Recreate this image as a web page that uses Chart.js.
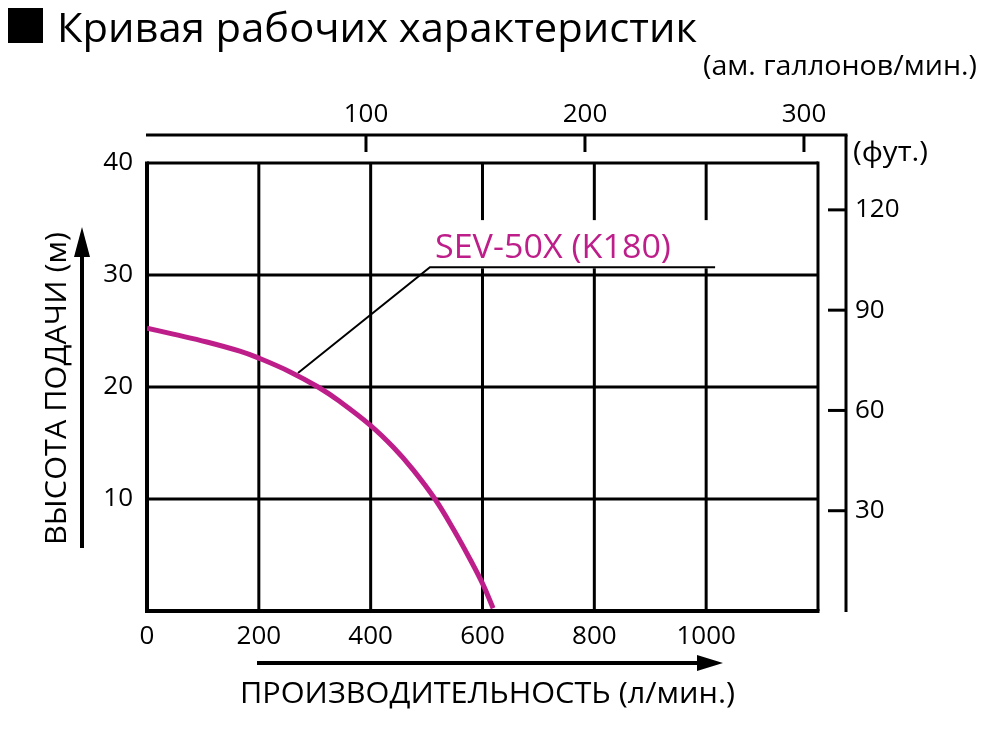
<!DOCTYPE html>
<html>
<head>
<meta charset="utf-8">
<script src="https://cdn.jsdelivr.net/npm/chart.js@4.4.1/dist/chart.umd.min.js"></script>
<style>
  html, body { margin: 0; padding: 0; background: #fff; }
  #wrap { width: 1000px; height: 735px; position: relative; }
</style>
</head>
<body>
<div id="wrap"><canvas id="c"></canvas></div>
<script>
// ---- data ----
const flowLpm = [0, 47, 107, 166, 199, 256, 306, 345, 399, 441, 476, 515, 548, 578, 601, 619];
const headM   = [25.25, 24.72, 24.02, 23.2, 22.6, 21.35, 20.0, 18.7, 16.6, 14.6, 12.6, 10.0, 7.3, 4.6, 2.35, 0.25];

const flowTicks = [0, 200, 400, 600, 800, 1000];
const flowGrid  = [200, 400, 600, 800, 1000];
const flowEnd   = 1200;
const headTicks = [10, 20, 30, 40];
const headTop   = 40;
const galTicks  = [100, 200, 300];
const ftTicks   = [30, 60, 90, 120];

const seriesName = 'SEV-50X (K180)';
const titleText = 'Кривая рабочих характеристик';
const galUnit = '(ам. галлонов/мин.)';
const ftUnit = '(фут.)';
const xTitle = 'ПРОИЗВОДИТЕЛЬНОСТЬ (л/мин.)';
const yTitle = 'ВЫСОТА ПОДАЧИ (м)';

const MAG = '#BE1E8A';
const FONT = "'Open Sans', 'Noto Sans', 'DejaVu Sans', sans-serif";

function fitText(ctx, text, x, y, w, size, color, rot) {
  ctx.save();
  ctx.font = size + 'px ' + FONT;
  ctx.fillStyle = color || '#000';
  ctx.textAlign = 'left';
  ctx.textBaseline = 'alphabetic';
  const m = ctx.measureText(text).width;
  ctx.translate(x, y);
  if (rot) ctx.rotate(rot);
  ctx.scale(w / m, 1);
  ctx.fillText(text, 0, 0);
  ctx.restore();
}

function line(ctx, x1, y1, x2, y2, w) {
  ctx.beginPath();
  ctx.lineWidth = w;
  ctx.moveTo(x1, y1);
  ctx.lineTo(x2, y2);
  ctx.stroke();
}

const decor = {
  id: 'decor',
  beforeDatasetsDraw(chart) {
    const ctx = chart.ctx;
    const xs = chart.scales.x, ys = chart.scales.y;
    const x0 = xs.getPixelForValue(0), x1 = xs.getPixelForValue(flowEnd);
    const y0 = ys.getPixelForValue(0), yT = ys.getPixelForValue(headTop);
    ctx.save();
    ctx.strokeStyle = '#000';
    ctx.lineCap = 'butt';
    headTicks.forEach(v => { const p = ys.getPixelForValue(v); line(ctx, x0, p, x1, p, 3); });
    flowGrid.forEach(v => { const p = xs.getPixelForValue(v); line(ctx, p, yT, p, y0, 3); });
    line(ctx, x1, yT - 1.5, x1, y0, 3);
    line(ctx, x0, yT - 1.5, x0, y0 + 2, 4);
    line(ctx, x0 - 2, y0, x1 + 1.5, y0, 4);

    const bx0 = xs.getPixelForValue(493), bx1 = xs.getPixelForValue(1019);
    const by0 = ys.getPixelForValue(34.9), by1 = ys.getPixelForValue(30.6);
    ctx.fillStyle = '#fff';
    ctx.fillRect(bx0, by0, bx1 - bx0, by1 - by0);
    ctx.beginPath();
    ctx.lineWidth = 2;
    ctx.moveTo(xs.getPixelForValue(270), ys.getPixelForValue(21.25));
    ctx.lineTo(xs.getPixelForValue(506), ys.getPixelForValue(30.7));
    ctx.lineTo(xs.getPixelForValue(1016), ys.getPixelForValue(30.7));
    ctx.stroke();
    const lx0 = xs.getPixelForValue(515), lx1 = xs.getPixelForValue(937);
    fitText(ctx, seriesName, lx0, ys.getPixelForValue(31.5), lx1 - lx0, 32, MAG);
    ctx.restore();
  },
  afterDraw(chart) {
    const ctx = chart.ctx;
    const ca = chart.chartArea;
    const gs = chart.scales.xg, fs = chart.scales.yf;
    ctx.save();
    ctx.strokeStyle = '#000';
    ctx.fillStyle = '#000';
    line(ctx, ca.left - 1, ca.top, ca.right + 1.5, ca.top, 3);
    galTicks.forEach(v => { const p = gs.getPixelForValue(v); line(ctx, p, ca.top, p, ca.top + 17, 3); });
    line(ctx, ca.right, ca.top, ca.right, ca.bottom + 1, 3);
    ftTicks.forEach(v => { const p = fs.getPixelForValue(v); line(ctx, ca.right - 18, p, ca.right, p, 3); });

    ctx.fillRect(8, 8, 35, 35);
    fitText(ctx, titleText, 57, 42, 640, 41, '#000');
    fitText(ctx, galUnit, 703, 75, 274, 27, '#000');
    fitText(ctx, ftUnit, 853, 161, 75, 27, '#000');

    line(ctx, 257, 663, 700, 663, 4);
    ctx.beginPath();
    ctx.moveTo(723, 663); ctx.lineTo(697, 655); ctx.lineTo(697, 671); ctx.closePath(); ctx.fill();
    fitText(ctx, xTitle, 240, 703, 495, 29, '#000');

    line(ctx, 82, 548, 82, 250, 4);
    ctx.beginPath();
    ctx.moveTo(82, 227); ctx.lineTo(74, 257); ctx.lineTo(90, 257); ctx.closePath(); ctx.fill();
    fitText(ctx, yTitle, 66, 545, 313, 30, '#000', -Math.PI / 2);
    ctx.restore();
  }
};

const tickFont = { family: FONT, size: 26 };
const plain = v => String(v);

new Chart(document.getElementById('c'), {
  type: 'scatter',
  data: {
    datasets: [{
      label: seriesName,
      data: flowLpm.map((x, i) => ({ x: x, y: headM[i] })),
      showLine: true,
      borderColor: MAG,
      borderWidth: 5,
      pointRadius: 0,
      tension: 0.4,
      xAxisID: 'x',
      yAxisID: 'y'
    }]
  },
  options: {
    responsive: true,
    maintainAspectRatio: false,
    animation: false,
    devicePixelRatio: 1,
    layout: { padding: 0 },
    plugins: { legend: { display: false }, tooltip: { enabled: false }, title: { display: false } },
    scales: {
      x: {
        type: 'linear', position: 'bottom', min: 0, max: 1250.1,
        afterBuildTicks: s => { s.ticks = flowTicks.map(v => ({ value: v })); },
        afterFit: s => { s.height = 735 - 611; },
        grid: { display: false, drawTicks: false }, border: { display: false },
        ticks: { font: tickFont, color: '#000', padding: 10, autoSkip: false, maxRotation: 0, callback: plain }
      },
      xg: {
        type: 'linear', position: 'top', min: 0, max: 319.2,
        afterBuildTicks: s => { s.ticks = galTicks.map(v => ({ value: v })); },
        afterFit: s => { s.height = 135; },
        grid: { display: false, drawTicks: false }, border: { display: false },
        ticks: { font: tickFont, color: '#000', padding: 5, autoSkip: false, maxRotation: 0, callback: plain }
      },
      y: {
        type: 'linear', position: 'left', min: 0, max: 42.5,
        afterBuildTicks: s => { s.ticks = headTicks.map(v => ({ value: v })); },
        afterFit: s => { s.width = 147; },
        grid: { display: false, drawTicks: false }, border: { display: false },
        ticks: { font: tickFont, color: '#000', padding: 14, autoSkip: false, callback: plain }
      },
      yf: {
        type: 'linear', position: 'right', min: 0, max: 142.4,
        afterBuildTicks: s => { s.ticks = ftTicks.map(v => ({ value: v })); },
        afterFit: s => { s.width = 1000 - 846; },
        grid: { display: false, drawTicks: false }, border: { display: false },
        ticks: { font: tickFont, color: '#000', padding: 9, autoSkip: false, callback: plain }
      }
    }
  },
  plugins: [decor]
});
</script>
</body>
</html>
